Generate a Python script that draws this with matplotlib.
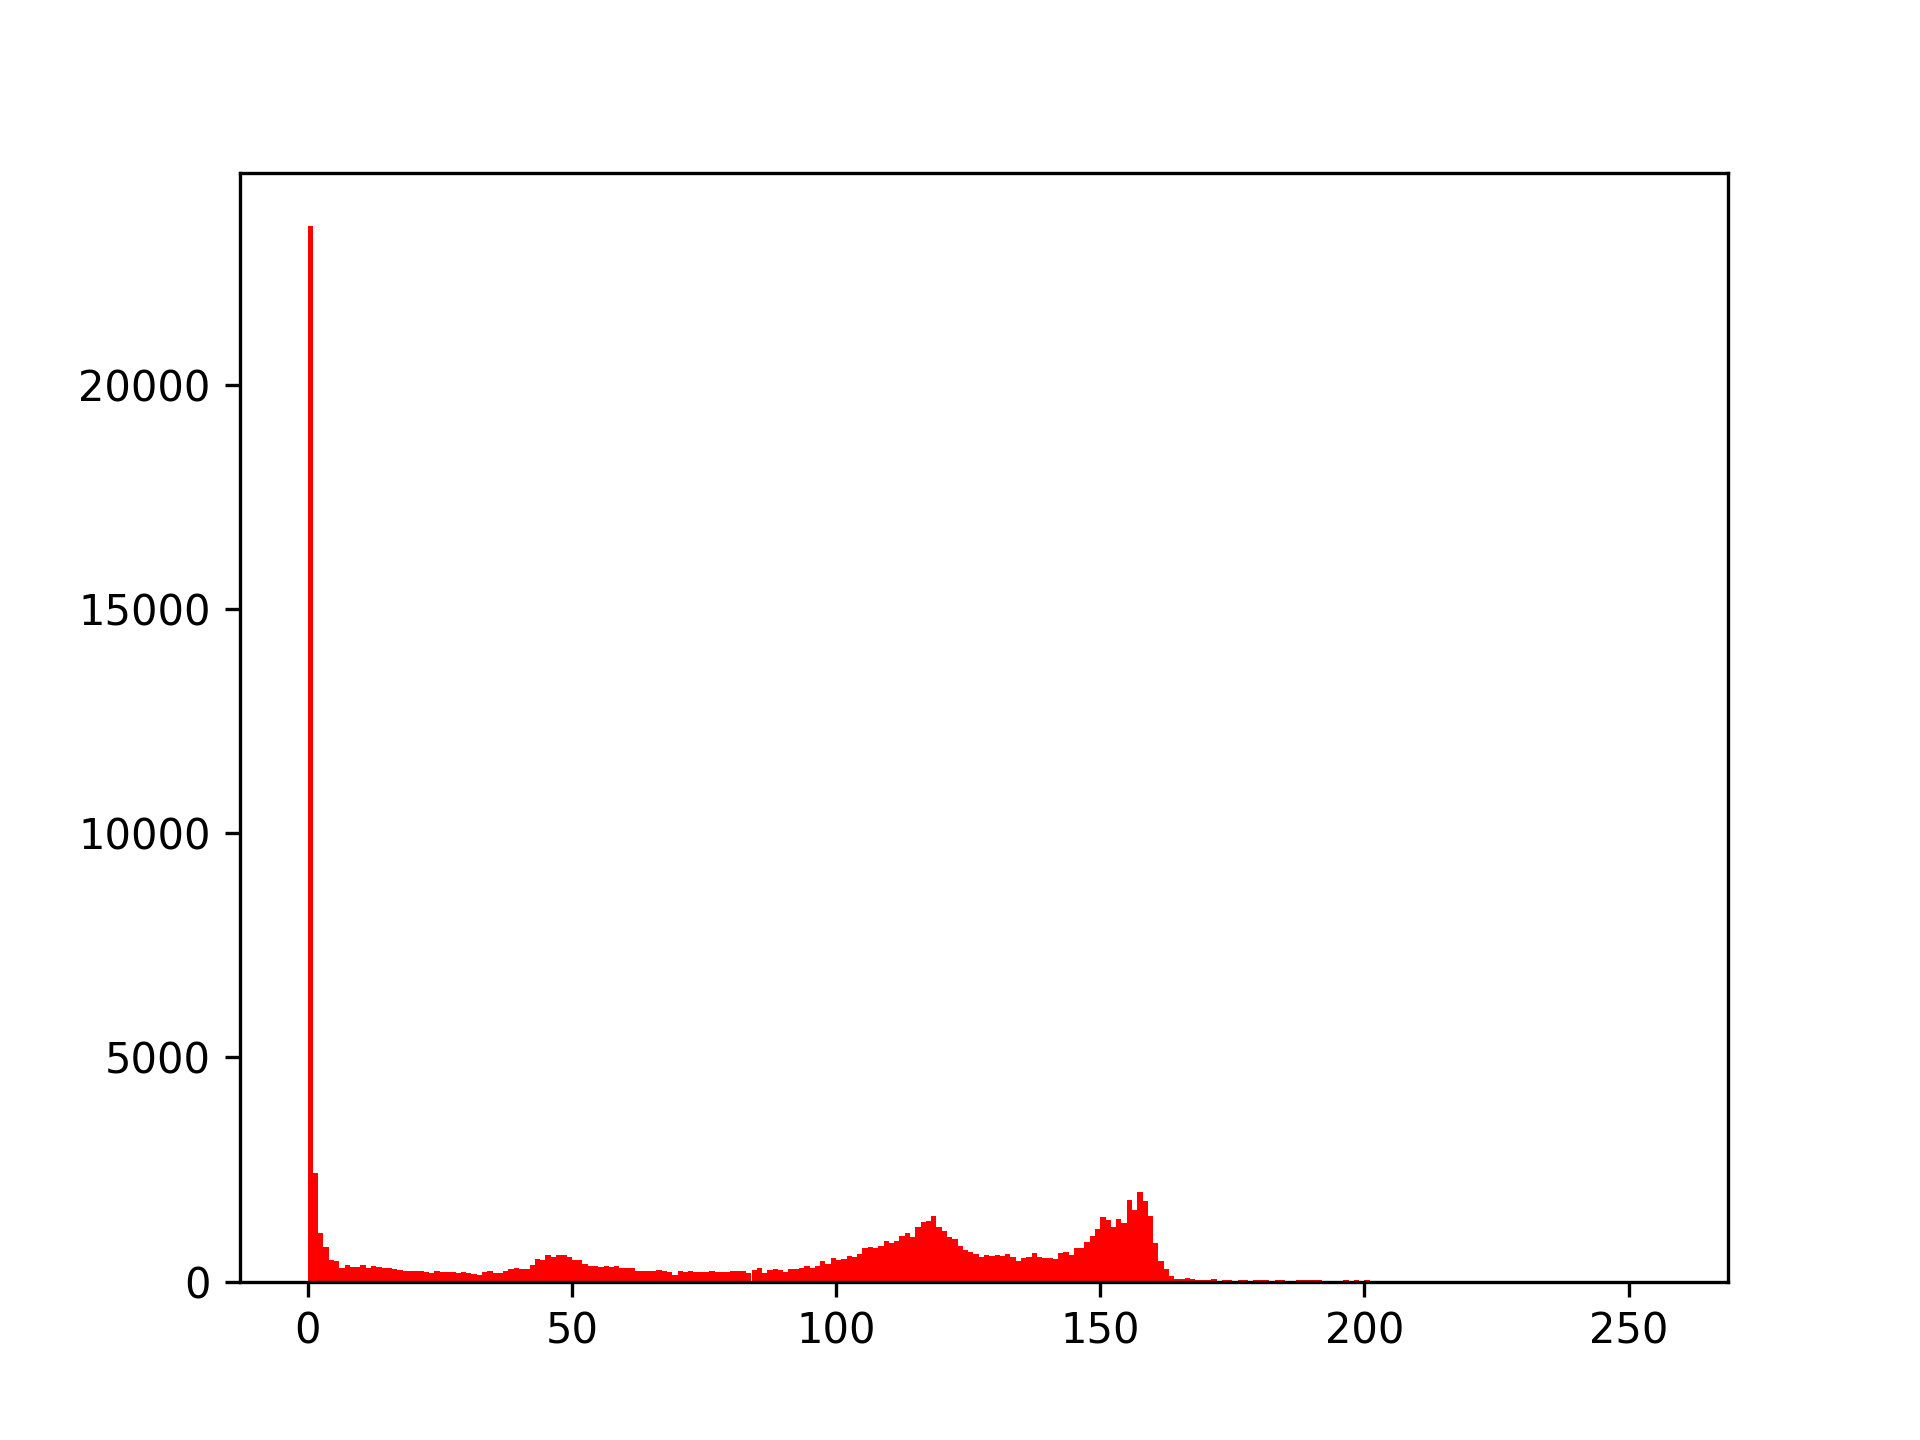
import numpy as np
import matplotlib
matplotlib.use('Agg')
import matplotlib.pyplot as plt

# 灰度直方图各个像素值的计数
counts_0_41 = [23550, 2430, 1086, 774, 484, 460, 312, 365, 327, 327,
               365, 312, 342, 320, 305, 305, 275, 253, 245, 245,
               238, 238, 216, 200, 230, 223, 216, 208, 193, 208,
               193, 171, 156, 208, 238, 193, 193, 230, 275, 305,
               290, 290]
counts_42_82 = [372, 506, 484, 588, 558, 588, 588, 558, 491, 484,
                387, 342, 350, 327, 350, 327, 342, 305, 305, 298,
                238, 238, 238, 238, 260, 230, 223, 149, 238, 208,
                230, 216, 223, 216, 230, 216, 216, 223, 238, 238,
                235]
counts_83_124 = [193, 260, 305, 193, 260, 283, 260, 216, 283, 283,
                 305, 342, 305, 342, 461, 394, 528, 484, 506, 573,
                 551, 618, 751, 766, 744, 796, 915, 870, 915, 1019,
                 1086, 997, 1220, 1332, 1354, 1458, 1220, 1131, 997, 952,
                 796, 707]
counts_125_166 = [662, 618, 551, 595, 573, 595, 573, 618, 551, 461,
                  528, 551, 640, 551, 528, 528, 506, 640, 662, 595,
                  751, 751, 885, 1019, 1175, 1443, 1376, 1220, 1399, 1309,
                  1823, 1600, 2001, 1800, 1466, 863, 461, 283, 126, 67,
                  67, 75]
counts_167_205 = [60, 40, 30, 25, 50, 15, 40, 40, 20, 30,
                  30, 15, 30, 30, 30, 15, 30, 30, 15, 15,
                  30, 30, 30, 30, 30, 10, 10, 10, 10, 25,
                  10, 25, 10, 25, 10, 10, 20, 8, 0]

counts = counts_0_41 + counts_42_82 + counts_83_124 + counts_125_166 + counts_167_205
counts = counts + [0] * (256 - len(counts))
pixel_values = np.arange(256)

fig = plt.figure(figsize=(6.4, 4.8), dpi=300)
plt.hist(pixel_values, bins=256, range=(0, 256), weights=counts, color='r')

plt.savefig('out.png', dpi=300)
